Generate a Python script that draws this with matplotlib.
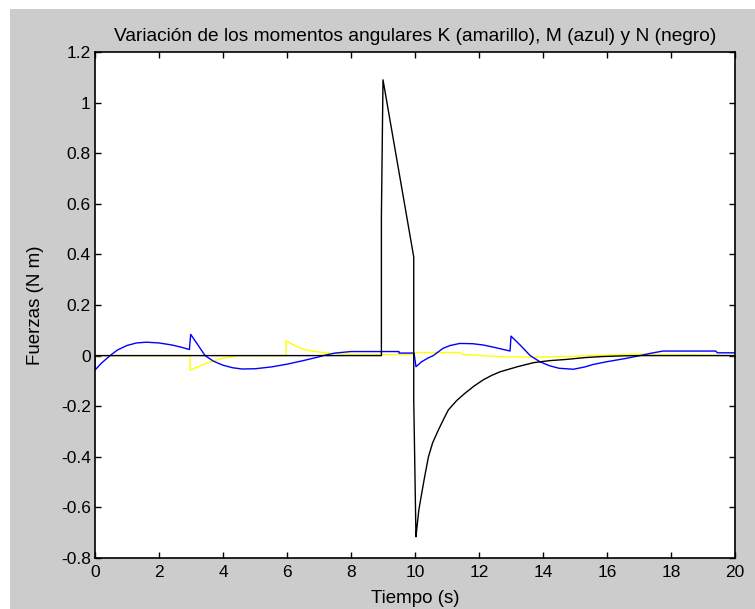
import matplotlib
matplotlib.use("Agg")
import matplotlib.pyplot as plt
from matplotlib.patches import Rectangle

plt.rcParams['font.family'] = ['Liberation Sans', 'DejaVu Sans']

# K (amarillo)
t_k = [0, 2.97, 2.97, 3.15, 3.3, 3.6, 4.0, 4.48, 5.97, 5.97, 6.2, 6.51, 6.8, 7.13, 7.5, 8.0, 9.0,
       9.97, 10.0, 11.4, 11.5, 12.66, 13.7, 14.7, 15.5, 16.8, 18.9, 20]
k = [0, 0, -0.057, -0.048, -0.04, -0.025, -0.01, 0, 0, 0.059, 0.042, 0.025, 0.018, 0.012, 0.008,
     0.005, 0.004, 0.005, 0.012, 0.012, 0.004, -0.004, -0.006, -0.004, 0, 0.006, 0.003, 0]

# M (azul)
t_m = [0, 0, 0.2, 0.47, 0.7, 1.0, 1.3, 1.6, 2.0, 2.4, 2.7, 2.95, 2.99, 3.2, 3.44, 3.7, 4.0, 4.3,
       4.6, 5.0, 5.5, 6.0, 6.5, 7.0, 7.13, 7.5, 8.0, 9.5, 9.5, 9.97, 10.03, 10.2, 10.4, 10.57,
       10.88, 11.1, 11.4, 11.8, 12.13, 12.5, 12.97, 13.0, 13.3, 13.6, 13.9, 14.2, 14.5, 14.95,
       15.3, 15.57, 16.0, 16.6, 17.03, 17.4, 17.75, 19.4, 19.45, 20]
m = [0, -0.057, -0.03, 0, 0.022, 0.04, 0.05, 0.053, 0.05, 0.042, 0.033, 0.024, 0.084, 0.045, 0,
     -0.022, -0.038, -0.048, -0.053, -0.052, -0.045, -0.034, -0.02, -0.005, 0, 0.01, 0.016, 0.016,
     0.01, 0.01, -0.044, -0.025, -0.01, 0, 0.029, 0.04, 0.048, 0.047, 0.042, 0.032, 0.018, 0.077,
     0.04, 0, -0.024, -0.04, -0.05, -0.054, -0.045, -0.035, -0.024, -0.011, 0, 0.01, 0.018, 0.018,
     0.011, 0.011]

# N (negro)
t_n = [0, 8.95, 8.95, 9.0, 9.96, 9.96, 10.03, 10.06, 10.12, 10.21, 10.3, 10.42, 10.55, 10.73,
       10.9, 11.04, 11.3, 11.56, 11.85, 12.13, 12.4, 12.66, 13.2, 13.7, 14.2, 14.74, 15.3, 15.8,
       16.5, 17.0, 20]
n = [0, 0, 0.55, 1.09, 0.39, -0.17, -0.716, -0.68, -0.61, -0.544, -0.48, -0.4, -0.345, -0.294,
     -0.25, -0.215, -0.178, -0.149, -0.12, -0.096, -0.078, -0.064, -0.044, -0.028, -0.02, -0.015,
     -0.008, -0.004, -0.001, 0, 0]

xticks = list(range(0, 21, 2))
yticks = [-0.8, -0.6, -0.4, -0.2, 0, 0.2, 0.4, 0.6, 0.8, 1, 1.2]
ylabels = ['-0.8', '-0.6', '-0.4', '-0.2', '0', '0.2', '0.4', '0.6', '0.8', '1', '1.2']

fig = plt.figure(figsize=(7.55, 6.09), dpi=100, facecolor='white')
fig.patches.append(Rectangle((10 / 755, 0), 1, 1 - 9 / 609, transform=fig.transFigure,
                             facecolor='#cccccc', edgecolor='none', zorder=-10))

ax = fig.add_axes([95 / 755, 1 - 558 / 609, 640 / 755, 506 / 609])
ax.plot(t_k, k, color='#ffff00', lw=1.0)
ax.plot(t_m, m, color='#0000ff', lw=1.0)
ax.plot(t_n, n, color='black', lw=1.0)

ax.set_xlim(0, 20)
ax.set_ylim(-0.8, 1.2)
ax.set_xticks(xticks)
ax.set_yticks(yticks)
ax.set_yticklabels(ylabels)
ax.tick_params(direction='in', length=4, width=1, top=True, right=True, labelsize=12.5, pad=3)
ax.tick_params(axis='x', pad=5)
for s in ax.spines.values():
    s.set_linewidth(1.2)

ax.set_title('Variación de los momentos angulares K (amarillo), M (azul) y N (negro)',
             fontsize=13.8, pad=8)
ax.set_xlabel('Tiempo (s)', fontsize=13.5, labelpad=7)
ax.set_ylabel('Fuerzas (N m)', fontsize=13.5, labelpad=12)

fig.savefig('out.png', dpi=100, facecolor=fig.get_facecolor())
